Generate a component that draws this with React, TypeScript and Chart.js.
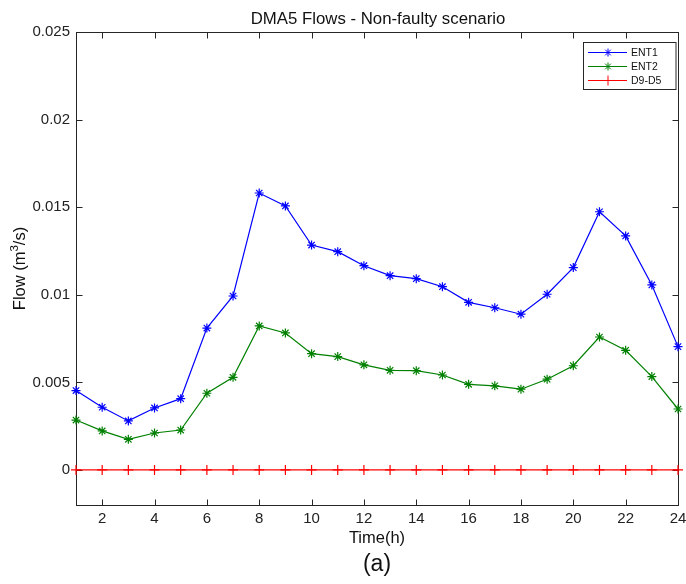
import React, { useEffect, useRef } from 'react';
import { Chart, registerables } from 'chart.js';

Chart.register(...registerables);

const hours = [1, 2, 3, 4, 5, 6, 7, 8, 9, 10, 11, 12, 13, 14, 15, 16, 17, 18, 19, 20, 21, 22, 23, 24];
const ent1 = [0.00453, 0.00358, 0.0028, 0.00354, 0.00407, 0.0081, 0.00993, 0.01581, 0.01507, 0.01284, 0.01246, 0.01166, 0.01109, 0.01092, 0.01046, 0.00957, 0.00926, 0.00889, 0.01003, 0.01155, 0.01474, 0.01336, 0.01056, 0.00704];
const ent2 = [0.00285, 0.00223, 0.00175, 0.00211, 0.00228, 0.00438, 0.00529, 0.00822, 0.00782, 0.00664, 0.00647, 0.006, 0.00569, 0.00567, 0.00542, 0.00489, 0.0048, 0.00461, 0.00518, 0.00595, 0.00759, 0.00683, 0.00533, 0.00348];
const d9d5 = [0, 0, 0, 0, 0, 0, 0, 0, 0, 0, 0, 0, 0, 0, 0, 0, 0, 0, 0, 0, 0, 0, 0, 0];
const seriesNames = ['ENT1', 'ENT2', 'D9-D5'];
const xTicks = [2, 4, 6, 8, 10, 12, 14, 16, 18, 20, 22, 24];
const yTicks = [0, 0.005, 0.01, 0.015, 0.02, 0.025];
const yTickLabels = ['0', '0.005', '0.01', '0.015', '0.02', '0.025'];
const titleText = 'DMA5 Flows - Non-faulty scenario';
const xLabel = 'Time(h)';
const subLabel = '(a)';

const FONT = '"Liberation Sans", Arial, Helvetica, sans-serif';
const AXIS = '#262626';
const COLORS = ['#0000ff', '#008000', '#ff0000'];
const STYLES = ['star', 'star', 'cross'];

function drawMarker(ctx: CanvasRenderingContext2D, style: string, x: number, y: number, r: number) {
  ctx.beginPath();
  if (style === 'star') {
    for (let k = 0; k < 4; k++) {
      const a = (k * Math.PI) / 4;
      ctx.moveTo(x - r * Math.cos(a), y - r * Math.sin(a));
      ctx.lineTo(x + r * Math.cos(a), y + r * Math.sin(a));
    }
  } else {
    ctx.moveTo(x - r, y);
    ctx.lineTo(x + r, y);
    ctx.moveTo(x, y - r);
    ctx.lineTo(x, y + r);
  }
  ctx.stroke();
}

const decor = {
  id: 'decor',
  beforeDatasetsDraw(chart: any) {
    const { ctx, chartArea } = chart;
    const xs = chart.scales.x;
    const ys = chart.scales.y;
    const l = Math.round(chartArea.left) + 0.5;
    const r = Math.round(chartArea.right) + 0.5;
    const t = Math.round(chartArea.top) + 0.5;
    const b = Math.round(chartArea.bottom) + 0.5;
    ctx.save();
    ctx.strokeStyle = AXIS;
    ctx.lineWidth = 1;
    ctx.strokeRect(l, t, r - l, b - t);
    ctx.beginPath();
    for (const v of xTicks) {
      const px = Math.round(xs.getPixelForValue(v)) + 0.5;
      ctx.moveTo(px, b);
      ctx.lineTo(px, b - 6);
      ctx.moveTo(px, t);
      ctx.lineTo(px, t + 6);
    }
    for (const v of yTicks) {
      const py = Math.round(ys.getPixelForValue(v)) + 0.5;
      ctx.moveTo(l, py);
      ctx.lineTo(l + 6, py);
      ctx.moveTo(r, py);
      ctx.lineTo(r - 6, py);
    }
    ctx.stroke();
    ctx.restore();
  },
  afterDraw(chart: any) {
    const { ctx, chartArea } = chart;
    const cx = (chartArea.left + chartArea.right) / 2;
    const cy = (chartArea.top + chartArea.bottom) / 2;
    ctx.save();
    ctx.fillStyle = '#111';
    ctx.textAlign = 'center';
    ctx.textBaseline = 'alphabetic';
    // title
    ctx.font = `16.8px ${FONT}`;
    ctx.fillText(titleText, cx + 1, 24);
    // x label
    ctx.font = `16.5px ${FONT}`;
    ctx.fillText(xLabel, cx, 543);
    // (a)
    ctx.font = `23px ${FONT}`;
    ctx.fillText(subLabel, cx, 571);
    // y label with superscript
    ctx.translate(25, cy);
    ctx.rotate(-Math.PI / 2);
    const p1 = 'Flow (m';
    const p2 = '3';
    const p3 = '/s)';
    ctx.font = `16.5px ${FONT}`;
    const w1 = ctx.measureText(p1).width;
    const w3 = ctx.measureText(p3).width;
    ctx.font = `11.5px ${FONT}`;
    const w2 = ctx.measureText(p2).width;
    const total = w1 + w2 + w3;
    let x0 = -total / 2;
    ctx.textAlign = 'left';
    ctx.font = `16.5px ${FONT}`;
    ctx.fillText(p1, x0, 0);
    x0 += w1;
    ctx.font = `11.5px ${FONT}`;
    ctx.fillText(p2, x0, -7);
    x0 += w2;
    ctx.font = `16.5px ${FONT}`;
    ctx.fillText(p3, x0, 0);
    ctx.restore();

    // legend
    ctx.save();
    const lx = 583.5, ly = 42.5, lw = 92.5, lh = 47;
    ctx.fillStyle = '#ffffff';
    ctx.fillRect(lx, ly, lw, lh);
    ctx.strokeStyle = AXIS;
    ctx.lineWidth = 1;
    ctx.strokeRect(lx, ly, lw, lh);
    const rows = [52, 66, 80];
    ctx.font = `10.5px ${FONT}`;
    ctx.textBaseline = 'middle';
    ctx.textAlign = 'left';
    for (let i = 0; i < 3; i++) {
      const y = rows[i] + 0.5;
      ctx.strokeStyle = COLORS[i];
      ctx.lineWidth = 1;
      ctx.beginPath();
      ctx.moveTo(588, y);
      ctx.lineTo(627, y);
      ctx.stroke();
      drawMarker(ctx, STYLES[i], 608, y, i === 2 ? 5 : 4);
      ctx.fillStyle = '#111';
      ctx.fillText(seriesNames[i], 631, y + 0.5);
    }
    ctx.restore();
  },
};

export default function App() {
  const ref = useRef<HTMLCanvasElement | null>(null);
  useEffect(() => {
    if (!ref.current) return;
    const mk = (vals: number[]) => hours.map((h, i) => ({ x: h, y: vals[i] }));
    const all = [ent1, ent2, d9d5];
    const chart = new Chart(ref.current, {
      type: 'line',
      data: {
        datasets: all.map((vals, i) => ({
          label: seriesNames[i],
          data: mk(vals),
          borderColor: COLORS[i],
          backgroundColor: COLORS[i],
          borderWidth: 1.2,
          pointStyle: STYLES[i] as any,
          pointRadius: i === 2 ? 5 : 4.5,
          pointBorderWidth: 1.2,
          pointBorderColor: COLORS[i],
          fill: false,
          tension: 0,
          clip: false as any,
        })),
      },
      options: {
        animation: false,
        responsive: false,
        devicePixelRatio: 1,
        layout: { padding: { top: 32, right: 8, left: 0, bottom: 0 } },
        plugins: {
          legend: { display: false },
          title: { display: false },
          tooltip: { enabled: false },
        },
        scales: {
          x: {
            type: 'linear',
            min: 1,
            max: 24,
            grid: { display: false, drawTicks: false },
            border: { display: false },
            ticks: {
              padding: 5,
              color: '#222',
              font: { family: FONT, size: 15 },
              maxRotation: 0,
              autoSkip: false,
              callback: (v: any) => String(v),
            },
            afterBuildTicks: (s: any) => {
              s.ticks = xTicks.map((v) => ({ value: v }));
            },
            afterFit: (s: any) => {
              s.height = 79;
              s.paddingLeft = 0;
              s.paddingRight = 0;
            },
          },
          y: {
            type: 'linear',
            min: -0.002,
            max: 0.025,
            grid: { display: false, drawTicks: false },
            border: { display: false },
            ticks: {
              padding: 6,
              color: '#222',
              font: { family: FONT, size: 15 },
              autoSkip: false,
              callback: (_v: any, i: number) => yTickLabels[i],
            },
            afterBuildTicks: (s: any) => {
              s.ticks = yTicks.map((v) => ({ value: v }));
            },
            afterFit: (s: any) => {
              s.width = 76;
              s.paddingTop = 0;
              s.paddingBottom = 0;
            },
          },
        },
      },
      plugins: [decor],
    });
    return () => chart.destroy();
  }, []);
  return (
    <div style={{ position: 'absolute', left: 0, top: 0, width: 686, height: 584, background: '#fff' }}>
      <canvas ref={ref} width={686} height={584} style={{ width: 686, height: 584, display: 'block' }} />
    </div>
  );
}
